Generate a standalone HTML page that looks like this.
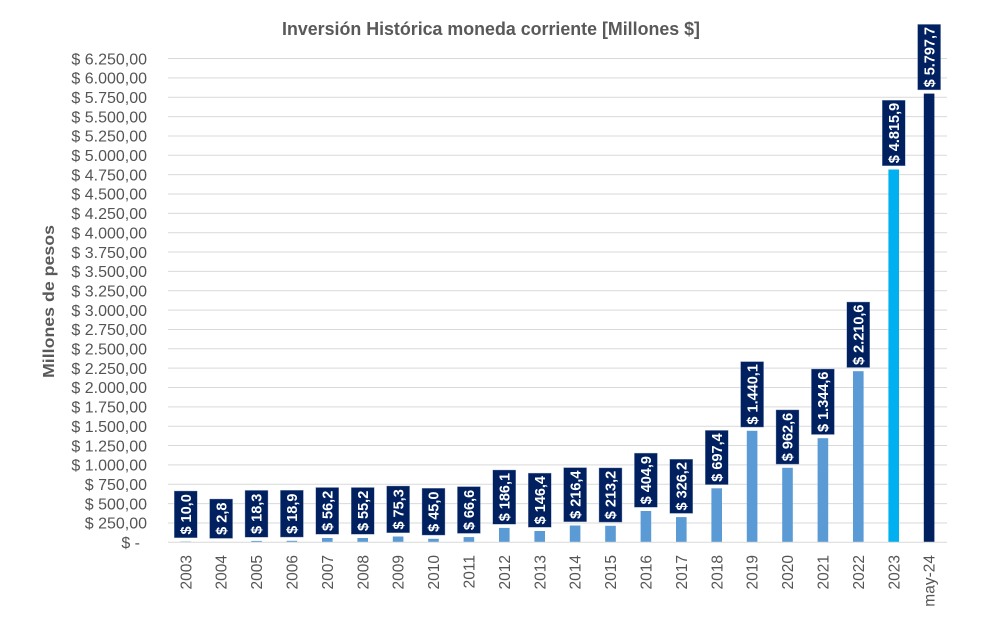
<!DOCTYPE html>
<html><head><meta charset="utf-8"><style>
html,body{margin:0;padding:0;background:#fff;}
svg{display:block;}
.yl{font-family:"Liberation Sans",sans-serif;font-size:16px;fill:#555555;text-anchor:end;}
.xl{font-family:"Liberation Sans",sans-serif;font-size:15.5px;fill:#555555;text-anchor:end;}
.dl{font-family:"Liberation Sans",sans-serif;font-size:14.5px;font-weight:bold;fill:#fff;text-anchor:middle;}
.g{stroke:#D9D9D9;stroke-width:1;}
.b{fill:#5B9BD5;}
.bx{fill:#002060;stroke:#8FA3C0;stroke-width:0.4;}
</style></head><body>
<svg width="998" height="623" viewBox="0 0 998 623" xmlns="http://www.w3.org/2000/svg">
<rect width="998" height="623" fill="#fff"/>
<text x="491" y="35" font-family="Liberation Sans, sans-serif" font-size="18.5" font-weight="bold" fill="#595959" text-anchor="middle" textLength="418" lengthAdjust="spacingAndGlyphs">Inversión Histórica moneda corriente [Millones $]</text>
<text transform="translate(54,301.5) rotate(-90)" font-family="Liberation Sans, sans-serif" font-size="15.5" font-weight="bold" fill="#595959" text-anchor="middle" textLength="153" lengthAdjust="spacingAndGlyphs">Millones de pesos</text>
<g class="g">
<line x1="168" x2="947" y1="522.95" y2="522.95"/>
<line x1="168" x2="947" y1="503.6" y2="503.6"/>
<line x1="168" x2="947" y1="484.25" y2="484.25"/>
<line x1="168" x2="947" y1="464.9" y2="464.9"/>
<line x1="168" x2="947" y1="445.55" y2="445.55"/>
<line x1="168" x2="947" y1="426.2" y2="426.2"/>
<line x1="168" x2="947" y1="406.85" y2="406.85"/>
<line x1="168" x2="947" y1="387.5" y2="387.5"/>
<line x1="168" x2="947" y1="368.15" y2="368.15"/>
<line x1="168" x2="947" y1="348.8" y2="348.8"/>
<line x1="168" x2="947" y1="329.45" y2="329.45"/>
<line x1="168" x2="947" y1="310.1" y2="310.1"/>
<line x1="168" x2="947" y1="290.75" y2="290.75"/>
<line x1="168" x2="947" y1="271.4" y2="271.4"/>
<line x1="168" x2="947" y1="252.05" y2="252.05"/>
<line x1="168" x2="947" y1="232.7" y2="232.7"/>
<line x1="168" x2="947" y1="213.35" y2="213.35"/>
<line x1="168" x2="947" y1="194" y2="194"/>
<line x1="168" x2="947" y1="174.65" y2="174.65"/>
<line x1="168" x2="947" y1="155.3" y2="155.3"/>
<line x1="168" x2="947" y1="135.95" y2="135.95"/>
<line x1="168" x2="947" y1="116.6" y2="116.6"/>
<line x1="168" x2="947" y1="97.25" y2="97.25"/>
<line x1="168" x2="947" y1="77.9" y2="77.9"/>
<line x1="168" x2="947" y1="58.55" y2="58.55"/>
</g>
<g>
<text class="yl" x="140" y="548">$ -</text>
<text class="yl" x="147" y="528.65">$ 250,00</text>
<text class="yl" x="147" y="509.3">$ 500,00</text>
<text class="yl" x="147" y="489.95">$ 750,00</text>
<text class="yl" x="147" y="470.6">$ 1.000,00</text>
<text class="yl" x="147" y="451.25">$ 1.250,00</text>
<text class="yl" x="147" y="431.9">$ 1.500,00</text>
<text class="yl" x="147" y="412.55">$ 1.750,00</text>
<text class="yl" x="147" y="393.2">$ 2.000,00</text>
<text class="yl" x="147" y="373.85">$ 2.250,00</text>
<text class="yl" x="147" y="354.5">$ 2.500,00</text>
<text class="yl" x="147" y="335.15">$ 2.750,00</text>
<text class="yl" x="147" y="315.8">$ 3.000,00</text>
<text class="yl" x="147" y="296.45">$ 3.250,00</text>
<text class="yl" x="147" y="277.1">$ 3.500,00</text>
<text class="yl" x="147" y="257.75">$ 3.750,00</text>
<text class="yl" x="147" y="238.4">$ 4.000,00</text>
<text class="yl" x="147" y="219.05">$ 4.250,00</text>
<text class="yl" x="147" y="199.7">$ 4.500,00</text>
<text class="yl" x="147" y="180.35">$ 4.750,00</text>
<text class="yl" x="147" y="161">$ 5.000,00</text>
<text class="yl" x="147" y="141.65">$ 5.250,00</text>
<text class="yl" x="147" y="122.3">$ 5.500,00</text>
<text class="yl" x="147" y="102.95">$ 5.750,00</text>
<text class="yl" x="147" y="83.6">$ 6.000,00</text>
<text class="yl" x="147" y="64.25">$ 6.250,00</text>
</g>
<g>
<rect class="b" x="180.4" y="541.5" width="10.6" height="0.8"/>
<rect class="b" x="215.8" y="542.1" width="10.6" height="0.2"/>
<rect class="b" x="251.2" y="540.9" width="10.6" height="1.4"/>
<rect class="b" x="286.6" y="540.8" width="10.6" height="1.5"/>
<rect class="b" x="322" y="538" width="10.6" height="4.3"/>
<rect class="b" x="357.4" y="538" width="10.6" height="4.3"/>
<rect class="b" x="392.8" y="536.5" width="10.6" height="5.8"/>
<rect class="b" x="428.2" y="538.8" width="10.6" height="3.5"/>
<rect class="b" x="463.6" y="537.1" width="10.6" height="5.2"/>
<rect class="b" x="499" y="527.9" width="10.6" height="14.4"/>
<rect class="b" x="534.4" y="531" width="10.6" height="11.3"/>
<rect class="b" x="569.8" y="525.5" width="10.6" height="16.8"/>
<rect class="b" x="605.2" y="525.8" width="10.6" height="16.5"/>
<rect class="b" x="640.6" y="511" width="10.6" height="31.3"/>
<rect class="b" x="676" y="517.1" width="10.6" height="25.2"/>
<rect class="b" x="711.4" y="488.3" width="10.6" height="54"/>
<rect class="b" x="746.8" y="430.8" width="10.6" height="111.5"/>
<rect class="b" x="782.2" y="467.8" width="10.6" height="74.5"/>
<rect class="b" x="817.6" y="438.2" width="10.6" height="104.1"/>
<rect class="b" x="853" y="371.2" width="10.6" height="171.1"/>
<rect x="888.4" y="169.5" width="10.6" height="372.8" fill="#00B0F0"/>
<rect x="923.8" y="93.6" width="10.6" height="448.7" fill="#002060"/>
</g>
<line x1="168" x2="947" y1="542.3" y2="542.3" stroke="#D9D9D9" stroke-width="1"/>
<g>
<rect class="bx" x="174.2" y="491" width="23" height="46.8"/>
<rect class="bx" x="209.6" y="499" width="23" height="39.4"/>
<rect class="bx" x="245" y="490.4" width="23" height="46.8"/>
<rect class="bx" x="280.4" y="490.3" width="23" height="46.8"/>
<rect class="bx" x="315.8" y="487.5" width="23" height="46.8"/>
<rect class="bx" x="351.2" y="487.5" width="23" height="46.8"/>
<rect class="bx" x="386.6" y="486" width="23" height="46.8"/>
<rect class="bx" x="422" y="488.3" width="23" height="46.8"/>
<rect class="bx" x="457.4" y="486.6" width="23" height="46.8"/>
<rect class="bx" x="492.8" y="470" width="23" height="54.2"/>
<rect class="bx" x="528.2" y="473.1" width="23" height="54.2"/>
<rect class="bx" x="563.6" y="467.6" width="23" height="54.2"/>
<rect class="bx" x="599" y="467.9" width="23" height="54.2"/>
<rect class="bx" x="634.4" y="453.1" width="23" height="54.2"/>
<rect class="bx" x="669.8" y="459.2" width="23" height="54.2"/>
<rect class="bx" x="705.2" y="430.4" width="23" height="54.2"/>
<rect class="bx" x="740.6" y="361.6" width="23" height="65.5"/>
<rect class="bx" x="776" y="409.9" width="23" height="54.2"/>
<rect class="bx" x="811.4" y="369" width="23" height="65.5"/>
<rect class="bx" x="846.8" y="302" width="23" height="65.5"/>
<rect class="bx" x="882.2" y="100.3" width="23" height="65.5"/>
<rect class="bx" x="917.6" y="24.4" width="23" height="65.5"/>
</g>
<g>
<text class="dl" transform="translate(190.9,514.4) rotate(-90)">$ 10,0</text>
<text class="dl" transform="translate(226.3,518.7) rotate(-90)">$ 2,8</text>
<text class="dl" transform="translate(261.7,513.8) rotate(-90)">$ 18,3</text>
<text class="dl" transform="translate(297.1,513.7) rotate(-90)">$ 18,9</text>
<text class="dl" transform="translate(332.5,510.9) rotate(-90)">$ 56,2</text>
<text class="dl" transform="translate(367.9,510.9) rotate(-90)">$ 55,2</text>
<text class="dl" transform="translate(403.3,509.4) rotate(-90)">$ 75,3</text>
<text class="dl" transform="translate(438.7,511.7) rotate(-90)">$ 45,0</text>
<text class="dl" transform="translate(474.1,510) rotate(-90)">$ 66,6</text>
<text class="dl" transform="translate(509.5,497.1) rotate(-90)">$ 186,1</text>
<text class="dl" transform="translate(544.9,500.2) rotate(-90)">$ 146,4</text>
<text class="dl" transform="translate(580.3,494.7) rotate(-90)">$ 216,4</text>
<text class="dl" transform="translate(615.7,495) rotate(-90)">$ 213,2</text>
<text class="dl" transform="translate(651.1,480.2) rotate(-90)">$ 404,9</text>
<text class="dl" transform="translate(686.5,486.3) rotate(-90)">$ 326,2</text>
<text class="dl" transform="translate(721.9,457.5) rotate(-90)">$ 697,4</text>
<text class="dl" transform="translate(757.3,394.35) rotate(-90)">$ 1.440,1</text>
<text class="dl" transform="translate(792.7,437) rotate(-90)">$ 962,6</text>
<text class="dl" transform="translate(828.1,401.75) rotate(-90)">$ 1.344,6</text>
<text class="dl" transform="translate(863.5,334.75) rotate(-90)">$ 2.210,6</text>
<text class="dl" transform="translate(898.9,133.05) rotate(-90)">$ 4.815,9</text>
<text class="dl" transform="translate(934.3,57.15) rotate(-90)">$ 5.797,7</text>
</g>
<g>
<text class="xl" transform="translate(191.3,555) rotate(-90)">2003</text>
<text class="xl" transform="translate(226.7,555) rotate(-90)">2004</text>
<text class="xl" transform="translate(262.1,555) rotate(-90)">2005</text>
<text class="xl" transform="translate(297.5,555) rotate(-90)">2006</text>
<text class="xl" transform="translate(332.9,555) rotate(-90)">2007</text>
<text class="xl" transform="translate(368.3,555) rotate(-90)">2008</text>
<text class="xl" transform="translate(403.7,555) rotate(-90)">2009</text>
<text class="xl" transform="translate(439.1,555) rotate(-90)">2010</text>
<text class="xl" transform="translate(474.5,555) rotate(-90)">2011</text>
<text class="xl" transform="translate(509.9,555) rotate(-90)">2012</text>
<text class="xl" transform="translate(545.3,555) rotate(-90)">2013</text>
<text class="xl" transform="translate(580.7,555) rotate(-90)">2014</text>
<text class="xl" transform="translate(616.1,555) rotate(-90)">2015</text>
<text class="xl" transform="translate(651.5,555) rotate(-90)">2016</text>
<text class="xl" transform="translate(686.9,555) rotate(-90)">2017</text>
<text class="xl" transform="translate(722.3,555) rotate(-90)">2018</text>
<text class="xl" transform="translate(757.7,555) rotate(-90)">2019</text>
<text class="xl" transform="translate(793.1,555) rotate(-90)">2020</text>
<text class="xl" transform="translate(828.5,555) rotate(-90)">2021</text>
<text class="xl" transform="translate(863.9,555) rotate(-90)">2022</text>
<text class="xl" transform="translate(899.3,555) rotate(-90)">2023</text>
<text class="xl" transform="translate(934.7,555) rotate(-90)">may-24</text>
</g>
</svg>
</body></html>
